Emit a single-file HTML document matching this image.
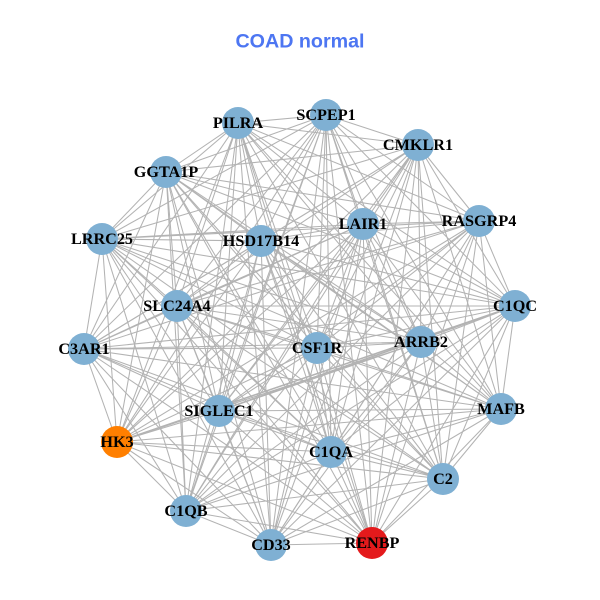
<!DOCTYPE html>
<html><head><meta charset="utf-8"><style>
html,body{margin:0;padding:0;background:#fff}
svg{display:block}
.l{font:bold 16.2px "Liberation Serif",serif;text-anchor:middle;fill:#000}
</style></head><body>
<svg width="600" height="600" viewBox="0 0 600 600" xmlns="http://www.w3.org/2000/svg">
<rect width="600" height="600" fill="#fff"/>
<text x="300" y="47.5" text-anchor="middle" style="font:bold 19.7px 'Liberation Sans',sans-serif" fill="#4d76f2">COAD normal</text>
<g fill="none" stroke="#b3b3b3" stroke-width="1.05">
<path d="M238 123L326 115M238 123L418 145M238 123L479 221M238 123L515 306M238 123L421 342M238 123L501 409M238 123L443 479M238 123L372 543M238 123L331 452M238 123L271 545M238 123L186 511M238 123L117 442M238 123L219 411M238 123L84 349M238 123L177 306M238 123L102 239M238 123L166 172M238 123L261 241M238 123L363 224M238 123L317 348"/>
<path d="M326 115L418 145M326 115L479 221M326 115L515 306M326 115L421 342M326 115L501 409M326 115L443 479M326 115L372 543M326 115L331 452M326 115L271 545M326 115L186 511M326 115L117 442M326 115L219 411M326 115L84 349M326 115L177 306M326 115L102 239M326 115L166 172M326 115L261 241M326 115L363 224M326 115L317 348"/>
<path d="M418 145L479 221M418 145L515 306M418 145L421 342M418 145L501 409M418 145L443 479M418 145L372 543M418 145L331 452M418 145L271 545M418 145L186 511M418 145L117 442M418 145L219 411M418 145L84 349M418 145L177 306M418 145L102 239M418 145L166 172M418 145L261 241M418 145L363 224M418 145L317 348"/>
<path d="M479 221L515 306M479 221L421 342M479 221L501 409M479 221L443 479M479 221L372 543M479 221L331 452M479 221L271 545M479 221L186 511M479 221L117 442M479 221L219 411M479 221L84 349M479 221L177 306M479 221L102 239M479 221L166 172M479 221L261 241M479 221L363 224M479 221L317 348"/>
<path d="M515 306L421 342M515 306L501 409M515 306L443 479M515 306L372 543M515 306L331 452M515 306L271 545M515 306L186 511M515 306L117 442M515 306L219 411M515 306L84 349M515 306L177 306M515 306L102 239M515 306L166 172M515 306L261 241M515 306L363 224M515 306L317 348"/>
<path d="M421 342L501 409M421 342L443 479M421 342L372 543M421 342L331 452M421 342L271 545M421 342L186 511M421 342L117 442M421 342L219 411M421 342L84 349M421 342L177 306M421 342L102 239M421 342L166 172M421 342L261 241M421 342L363 224M421 342L317 348"/>
<path d="M501 409L443 479M501 409L372 543M501 409L331 452M501 409L271 545M501 409L186 511M501 409L117 442M501 409L219 411M501 409L84 349M501 409L177 306M501 409L102 239M501 409L166 172M501 409L261 241M501 409L363 224M501 409L317 348"/>
<path d="M443 479L372 543M443 479L331 452M443 479L271 545M443 479L186 511M443 479L117 442M443 479L219 411M443 479L84 349M443 479L177 306M443 479L102 239M443 479L166 172M443 479L261 241M443 479L363 224M443 479L317 348"/>
<path d="M372 543L331 452M372 543L271 545M372 543L186 511M372 543L117 442M372 543L219 411M372 543L84 349M372 543L177 306M372 543L102 239M372 543L166 172M372 543L261 241M372 543L363 224M372 543L317 348"/>
<path d="M331 452L271 545M331 452L186 511M331 452L117 442M331 452L219 411M331 452L84 349M331 452L177 306M331 452L102 239M331 452L166 172M331 452L261 241M331 452L363 224M331 452L317 348"/>
<path d="M271 545L186 511M271 545L117 442M271 545L219 411M271 545L84 349M271 545L177 306M271 545L102 239M271 545L166 172M271 545L261 241M271 545L363 224M271 545L317 348"/>
<path d="M186 511L117 442M186 511L219 411M186 511L84 349M186 511L177 306M186 511L102 239M186 511L166 172M186 511L261 241M186 511L363 224M186 511L317 348"/>
<path d="M117 442L219 411M117 442L84 349M117 442L177 306M117 442L102 239M117 442L166 172M117 442L261 241M117 442L363 224M117 442L317 348"/>
<path d="M219 411L84 349M219 411L177 306M219 411L102 239M219 411L166 172M219 411L261 241M219 411L363 224M219 411L317 348"/>
<path d="M84 349L177 306M84 349L102 239M84 349L166 172M84 349L261 241M84 349L363 224M84 349L317 348"/>
<path d="M177 306L102 239M177 306L166 172M177 306L261 241M177 306L363 224M177 306L317 348"/>
<path d="M102 239L166 172M102 239L261 241M102 239L363 224M102 239L317 348"/>
<path d="M166 172L261 241M166 172L363 224M166 172L317 348"/>
<path d="M261 241L363 224M261 241L317 348"/>
<path d="M363 224L317 348"/>
<path stroke-width="1.5" d="M117 442L515 306M219 411L515 306"/>
</g>
<g fill="#7fb0d3">
<circle cx="238" cy="123" r="16"/><circle cx="326" cy="115" r="16"/><circle cx="418" cy="145" r="16"/><circle cx="479" cy="221" r="16"/><circle cx="515" cy="306" r="16"/><circle cx="421" cy="342" r="16"/><circle cx="501" cy="409" r="16"/><circle cx="443" cy="479" r="16"/><circle cx="331" cy="452" r="16"/><circle cx="271" cy="545" r="16"/><circle cx="186" cy="511" r="16"/><circle cx="219" cy="411" r="16"/><circle cx="84" cy="349" r="16"/><circle cx="177" cy="306" r="16"/><circle cx="102" cy="239" r="16"/><circle cx="166" cy="172" r="16"/><circle cx="261" cy="241" r="16"/><circle cx="363" cy="224" r="16"/><circle cx="317" cy="348" r="16"/>
<circle cx="372" cy="543" r="16" fill="#e41a1c"/><circle cx="117" cy="442" r="16" fill="#ff7f00"/>
</g>
<g>
<text class="l" x="238" y="128">PILRA</text>
<text class="l" x="326" y="120">SCPEP1</text>
<text class="l" x="418" y="150">CMKLR1</text>
<text class="l" x="479" y="226">RASGRP4</text>
<text class="l" x="515" y="311">C1QC</text>
<text class="l" x="421" y="347">ARRB2</text>
<text class="l" x="501" y="414">MAFB</text>
<text class="l" x="443" y="484">C2</text>
<text class="l" x="372" y="548">RENBP</text>
<text class="l" x="331" y="457">C1QA</text>
<text class="l" x="271" y="550">CD33</text>
<text class="l" x="186" y="516">C1QB</text>
<text class="l" x="117" y="447">HK3</text>
<text class="l" x="219" y="416">SIGLEC1</text>
<text class="l" x="84" y="354">C3AR1</text>
<text class="l" x="177" y="311">SLC24A4</text>
<text class="l" x="102" y="244">LRRC25</text>
<text class="l" x="166" y="177">GGTA1P</text>
<text class="l" x="261" y="246">HSD17B14</text>
<text class="l" x="363" y="229">LAIR1</text>
<text class="l" x="317" y="353">CSF1R</text>
</g>
</svg>
</body></html>
